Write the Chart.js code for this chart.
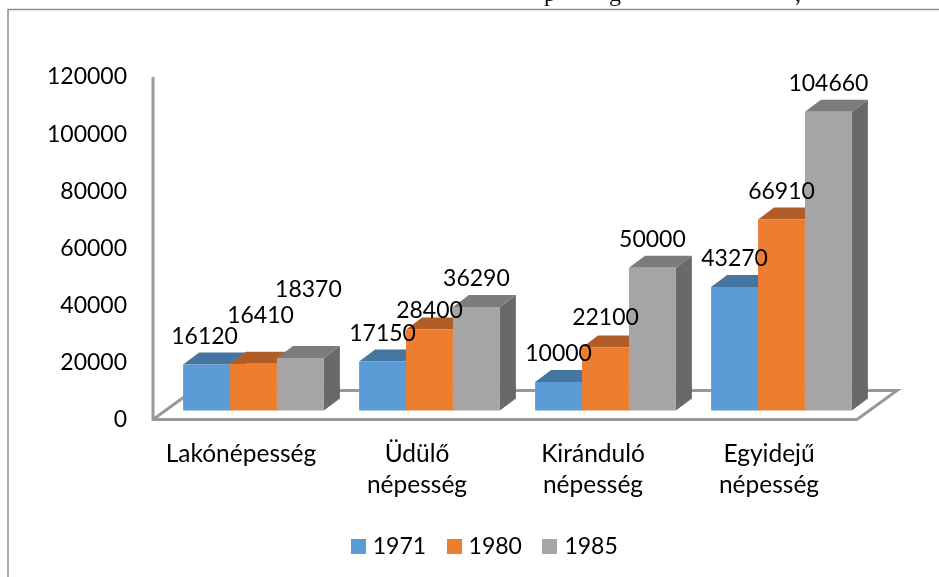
<!DOCTYPE html>
<html>
<head>
<meta charset="utf-8">
<style>html,body{margin:0;padding:0;background:#fff}canvas{display:block}</style>
<script src="https://cdn.jsdelivr.net/npm/chart.js@4/dist/chart.umd.min.js"></script>
</head>
<body>
<canvas id="c" width="939" height="577"></canvas>
<script>
const categories = [["Lakónépesség"], ["Üdülő", "népesség"], ["Kiránduló", "népesség"], ["Egyidejű", "népesség"]];
const series1971 = [16120, 17150, 10000, 43270];
const series1980 = [16410, 28400, 22100, 66910];
const series1985 = [18370, 36290, 50000, 104660];
const tickValues = [0, 20000, 40000, 60000, 80000, 100000, 120000];

const FONT = '"Lato", "Open Sans", sans-serif';
const FSIZE = 23;
const INK = '#000';
const SHIFT = {x: 12.5, y: -9};      // front plane of the bars relative to the wall axis
const DEPTH = {x: 16, y: -12};       // bar depth
const FLOOR = {x: 40, y: -29};       // floor depth
const LEGEND_SHIFT = 43;
const shades = [
  {front: '#5B9BD5', top: '#4575A1', side: '#3A6285'},
  {front: '#ED7D31', top: '#B25D25', side: '#94501F'},
  {front: '#A5A5A5', top: '#7C7C7C', side: '#696969'}
];
// hand-moved data labels in the source: "dataset,category" -> [dx, dy]
const labelMoves = {'0,0': [-2, 0], '1,0': [7, -20], '2,0': [8, -40], '1,1': [0, 9], '1,2': [0, -2]};

function swatch(color) {
  const c = document.createElement('canvas');
  c.width = 15; c.height = 15;
  const g = c.getContext('2d');
  g.fillStyle = color; g.fillRect(0, 0, 15, 15);
  return c;
}

const frame3d = {
  id: 'frame3d',
  afterLayout(chart) {
    chart.legend.left += LEGEND_SHIFT;
    chart.legend.right += LEGEND_SHIFT;
  },
  beforeDatasetsDraw(chart) {
    const {ctx, chartArea: a} = chart;
    ctx.save();
    ctx.strokeStyle = '#8f8f8f'; ctx.lineWidth = 1.5;
    ctx.beginPath(); ctx.moveTo(8, 577); ctx.lineTo(8, 9.5); ctx.lineTo(939, 9.5); ctx.stroke();
    ctx.strokeStyle = '#999999'; ctx.lineWidth = 3; ctx.lineJoin = 'miter';
    ctx.beginPath();
    ctx.moveTo(a.left, a.top); ctx.lineTo(a.left, a.bottom); ctx.lineTo(a.right, a.bottom);
    ctx.lineTo(a.right + FLOOR.x, a.bottom + FLOOR.y); ctx.lineTo(a.left + FLOOR.x, a.bottom + FLOOR.y);
    ctx.lineTo(a.left, a.bottom);
    ctx.stroke();
    ctx.fillStyle = '#111'; ctx.font = '24px "Liberation Serif"'; ctx.textAlign = 'center'; ctx.textBaseline = 'alphabetic';
    ctx.fillText('p', 550, 1); ctx.fillText('g', 615, 1); ctx.fillText(',', 798, 1);
    // depth faces, left to right, so the front faces drawn next cover what they should
    ctx.translate(SHIFT.x, SHIFT.y);
    chart.data.datasets.forEach((d, di) => {
      const s = shades[di];
      chart.getDatasetMeta(di).data.forEach(b => {
        const l = b.x - b.width / 2, r = b.x + b.width / 2, t = b.y, bt = b.base;
        ctx.fillStyle = s.side;
        ctx.beginPath(); ctx.moveTo(r, t); ctx.lineTo(r + DEPTH.x, t + DEPTH.y); ctx.lineTo(r + DEPTH.x, bt + DEPTH.y); ctx.lineTo(r, bt); ctx.closePath(); ctx.fill();
        ctx.fillStyle = s.top;
        ctx.beginPath(); ctx.moveTo(l, t); ctx.lineTo(l + DEPTH.x, t + DEPTH.y); ctx.lineTo(r + DEPTH.x, t + DEPTH.y); ctx.lineTo(r, t); ctx.closePath(); ctx.fill();
      });
    });
    ctx.restore();
  },
  beforeDatasetDraw(chart) {
    chart.ctx.save();
    chart.ctx.translate(SHIFT.x, SHIFT.y);
  },
  afterDatasetDraw(chart) { chart.ctx.restore(); },
  afterDatasetsDraw(chart) {
    const {ctx} = chart;
    ctx.save();
    ctx.fillStyle = INK; ctx.font = FSIZE + 'px ' + FONT; ctx.textAlign = 'center'; ctx.textBaseline = 'middle';
    chart.data.datasets.forEach((d, di) => {
      chart.getDatasetMeta(di).data.forEach((b, i) => {
        const m = labelMoves[di + ',' + i] || [0, 0];
        ctx.fillText(String(d.data[i]), b.x + SHIFT.x + m[0], b.y + SHIFT.y - 28 + m[1]);
      });
    });
    ctx.restore();
  }
};

new Chart(document.getElementById('c'), {
  type: 'bar',
  data: {
    labels: categories,
    datasets: [
      {label: '1971', data: series1971, backgroundColor: shades[0].front, clip: false},
      {label: '1980', data: series1980, backgroundColor: shades[1].front, clip: false},
      {label: '1985', data: series1985, backgroundColor: shades[2].front, clip: false}
    ]
  },
  options: {
    responsive: false,
    animation: false,
    layout: {padding: {left: 30, right: 82, top: 77, bottom: 9}},
    categoryPercentage: 0.8,
    barPercentage: 1,
    plugins: {
      tooltip: {enabled: false},
      legend: {
        position: 'bottom',
        labels: {
          usePointStyle: true, boxWidth: 6, boxHeight: 15, padding: 25, color: INK,
          font: {family: FONT, size: FSIZE},
          generateLabels(chart) {
            return chart.data.datasets.map((d, i) => ({
              text: d.label, datasetIndex: i, fontColor: INK, fillStyle: d.backgroundColor,
              strokeStyle: d.backgroundColor, lineWidth: 0, hidden: false,
              pointStyle: swatch(d.backgroundColor)
            }));
          }
        }
      }
    },
    scales: {
      x: {
        grid: {display: false, drawTicks: false},
        border: {display: false},
        afterFit(s) { s.height = 90.5; },
        ticks: {color: INK, padding: 19, maxRotation: 0, autoSkip: false, font: {family: FONT, size: 24.5, lineHeight: 1.265}}
      },
      y: {
        min: 0, max: 120000,
        grid: {display: false, drawTicks: false},
        border: {display: false},
        afterFit(s) { s.width = 123; },
        afterBuildTicks(s) { s.ticks = tickValues.map(v => ({value: v})); },
        ticks: {color: INK, padding: 26, font: {family: FONT, size: FSIZE}, callback: v => String(v)}
      }
    }
  },
  plugins: [frame3d]
});
</script>
</body>
</html>
